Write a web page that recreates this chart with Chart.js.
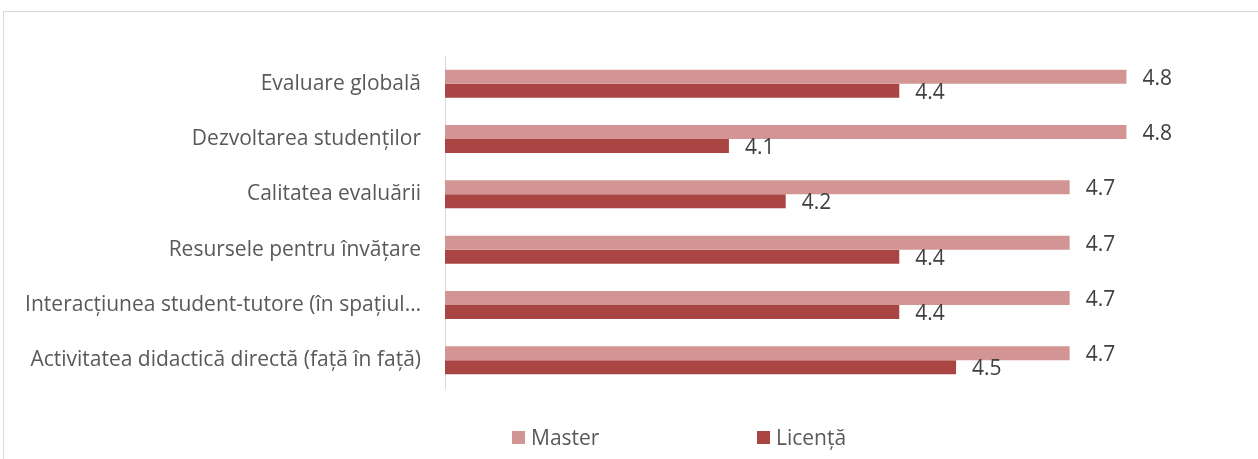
<!DOCTYPE html>
<html>
<head>
<meta charset="utf-8">
<script src="https://cdn.jsdelivr.net/npm/chart.js@4/dist/chart.umd.min.js"></script>
<style>
  html, body { margin: 0; padding: 0; background: #fff; overflow: hidden; }
  #frame { position: absolute; left: 3px; top: 11px; width: 1400px; height: 600px; border: 1px solid #d9d9d9; }
  #wrap { position: absolute; left: 0; top: 0; width: 1258px; height: 459px; }
</style>
</head>
<body>
<div id="frame"></div>
<div id="wrap"><canvas id="barChart" width="1258" height="459"></canvas></div>
<script>
const categories = [
  "Evaluare globală",
  "Dezvoltarea studenților",
  "Calitatea evaluării",
  "Resursele pentru învățare",
  "Interacțiunea student-tutore (în spațiul…",
  "Activitatea didactică directă (față în față)"
];
const masterValues = [4.8, 4.8, 4.7, 4.7, 4.7, 4.7];
const licentaValues = [4.4, 4.1, 4.2, 4.4, 4.4, 4.5];
const seriesNames = ["Master", "Licență"];
const seriesColors = ["#D39494", "#A94644"];

const FONT = "'Open Sans', 'Liberation Sans', sans-serif";
const SIZE = 21;

// value labels to the right of each bar
const valueLabels = {
  id: "valueLabels",
  afterDatasetsDraw(chart) {
    const ctx = chart.ctx;
    ctx.save();
    ctx.font = SIZE + "px " + FONT;
    ctx.fillStyle = "#404040";
    ctx.textAlign = "left";
    ctx.textBaseline = "middle";
    chart.data.datasets.forEach((ds, i) => {
      chart.getDatasetMeta(i).data.forEach((bar, j) => {
        ctx.fillText(ds.data[j].toFixed(1), bar.x + 16, bar.y + 2);
      });
    });
    ctx.restore();
  }
};

// legend drawn at the bottom, spaced like the original
const bottomLegend = {
  id: "bottomLegend",
  afterDraw(chart) {
    const ctx = chart.ctx;
    const starts = [512, 757];
    ctx.save();
    ctx.font = SIZE + "px " + FONT;
    ctx.textAlign = "left";
    ctx.textBaseline = "middle";
    chart.data.datasets.forEach((ds, i) => {
      ctx.fillStyle = ds.backgroundColor;
      ctx.fillRect(starts[i], 431, 13, 13);
      ctx.fillStyle = "#595959";
      ctx.fillText(ds.label, starts[i] + 19, 439);
    });
    ctx.restore();
  }
};

new Chart(document.getElementById("barChart").getContext("2d"), {
  type: "bar",
  data: {
    labels: categories,
    datasets: [
      { label: seriesNames[0], data: masterValues, backgroundColor: seriesColors[0] },
      { label: seriesNames[1], data: licentaValues, backgroundColor: seriesColors[1] }
    ]
  },
  options: {
    indexAxis: "y",
    responsive: false,
    animation: false,
    devicePixelRatio: 1,
    categoryPercentage: 0.506,
    barPercentage: 1,
    layout: { padding: { top: 56, bottom: 71, left: 0, right: 18 } },
    plugins: {
      legend: { display: false },
      tooltip: { enabled: false }
    },
    scales: {
      x: {
        display: false,
        min: 3.6,
        max: 5.0
      },
      y: {
        grid: { display: false, drawTicks: false },
        border: { display: true, color: "#d9d9d9", width: 1 },
        ticks: {
          color: "#595959",
          font: { family: FONT, size: SIZE },
          padding: 24,
          autoSkip: false
        },
        afterFit(scale) { scale.width = 445; }
      }
    }
  },
  plugins: [valueLabels, bottomLegend]
});
</script>
</body>
</html>
